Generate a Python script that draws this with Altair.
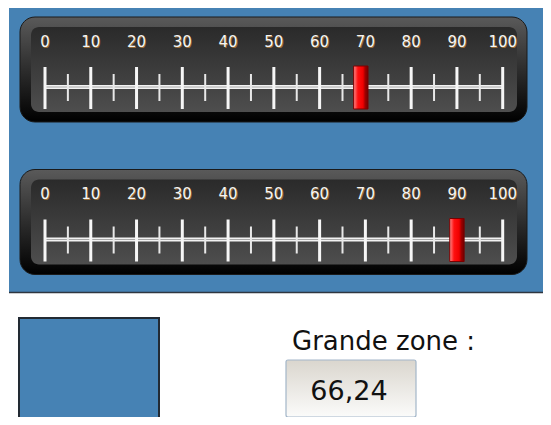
import altair as alt
import pandas as pd

# ---- data ----
MAJOR_TICKS = [0, 10, 20, 30, 40, 50, 60, 70, 80, 90, 100]
MINOR_TICKS = [5, 15, 25, 35, 45, 55, 65, 75, 85, 95]
TICK_LABELS = ["0", "10", "20", "30", "40", "50", "60", "70", "80", "90", "100"]
AXIS_RANGE = [0, 100]
GAUGE_VALUES = [69, 90]
DISPLAY_LABEL = ["Grande zone :"]
DISPLAY_VALUE = ["66,24"]

W, H = 535, 409
X_SCALE = alt.Scale(domain=[-8.084, 108.805], nice=False, zero=False)
FONT = "DejaVu Sans"

one = pd.DataFrame({"k": [0]})
major_df = pd.DataFrame({"v": MAJOR_TICKS, "label": TICK_LABELS})
minor_df = pd.DataFrame({"v": MINOR_TICKS})
axis_df = pd.DataFrame({"lo": [AXIS_RANGE[0]], "hi": [AXIS_RANGE[1]]})


def vgrad(c1, c2):
    return alt.Gradient(gradient="linear", x1=0, x2=0, y1=0, y2=1,
                        stops=[alt.GradientStop(color=c1, offset=0),
                               alt.GradientStop(color=c2, offset=1)])


red_grad = alt.Gradient(gradient="linear", x1=0, x2=1, y1=0, y2=0,
                        stops=[alt.GradientStop(color="#ff8a8a", offset=0),
                               alt.GradientStop(color="#ff1010", offset=0.3),
                               alt.GradientStop(color="#f00000", offset=0.65),
                               alt.GradientStop(color="#a00000", offset=0.8),
                               alt.GradientStop(color="#700000", offset=1)])

layers = []

# blue panel
layers.append(alt.Chart(one).mark_rect(fill="#4682b4").encode(
    x=alt.value(1), x2=alt.value(W), y=alt.value(0), y2=alt.value(285)))
layers.append(alt.Chart(one).mark_rule(stroke="#2e3640", strokeWidth=1.5).encode(
    x=alt.value(1), x2=alt.value(W), y=alt.value(284.5)))


def gauge(value, top):
    o = top  # offset relative to the first gauge
    ls = []
    ls.append(alt.Chart(one).mark_rect(cornerRadius=15, fill=vgrad("#5a5a5a", "#000000"),
                                       stroke="#1a1a1a", strokeWidth=1).encode(
        x=alt.value(12), x2=alt.value(519), y=alt.value(9 + o), y2=alt.value(114 + o)))
    ls.append(alt.Chart(one).mark_rect(cornerRadius=8, fill=vgrad("#2a2a2a", "#4e4e4e")).encode(
        x=alt.value(23), x2=alt.value(509), y=alt.value(19 + o), y2=alt.value(104 + o)))
    # labels (glow + text)
    ls.append(alt.Chart(major_df).mark_text(font=FONT, fontSize=15, color="#b07a3a", opacity=0.8,
                                            baseline="middle", align="center", dx=0.8, dy=0.8).encode(
        x=alt.X("v:Q", scale=X_SCALE, axis=None), y=alt.value(33.7 + o), text="label:N"))
    ls.append(alt.Chart(major_df).mark_text(font=FONT, fontSize=15, color="#f4f4f4",
                                            baseline="middle", align="center").encode(
        x=alt.X("v:Q", scale=X_SCALE, axis=None), y=alt.value(33.7 + o), text="label:N"))
    # axis line
    ls.append(alt.Chart(axis_df).mark_rule(stroke="#f2f2f2", strokeWidth=4).encode(
        x=alt.X("lo:Q", scale=X_SCALE, axis=None), x2="hi:Q", y=alt.value(79 + o)))
    ls.append(alt.Chart(axis_df).mark_rule(stroke="#a8a8a8", strokeWidth=1).encode(
        x=alt.X("lo:Q", scale=X_SCALE, axis=None), x2="hi:Q", y=alt.value(79 + o)))
    # ticks
    ls.append(alt.Chart(major_df).mark_rule(stroke="#f6f6f6", strokeWidth=3).encode(
        x=alt.X("v:Q", scale=X_SCALE, axis=None), y=alt.value(59 + o), y2=alt.value(101 + o)))
    ls.append(alt.Chart(minor_df).mark_rule(stroke="#e8e8e8", strokeWidth=2).encode(
        x=alt.X("v:Q", scale=X_SCALE, axis=None), y=alt.value(66 + o), y2=alt.value(93 + o)))
    # red marker
    ls.append(alt.Chart(pd.DataFrame({"v": [value]})).transform_calculate(
        lo="datum.v - 1.57", hi="datum.v + 1.57").mark_rect(
        fill=red_grad, stroke="#7a0000", strokeWidth=1).encode(
        x=alt.X("lo:Q", scale=X_SCALE, axis=None), x2="hi:Q",
        y=alt.value(58 + o), y2=alt.value(101 + o)))
    return ls


layers += gauge(GAUGE_VALUES[0], 0)
layers += gauge(GAUGE_VALUES[1], 152.5)

# blue square
layers.append(alt.Chart(one).mark_rect(fill="#4682b4", stroke="#222a33", strokeWidth=2).encode(
    x=alt.value(11), x2=alt.value(151), y=alt.value(310), y2=alt.value(430)))

# label
layers.append(alt.Chart(pd.DataFrame({"t": DISPLAY_LABEL})).mark_text(
    font=FONT, fontSize=26, color="#111111", align="left", baseline="alphabetic").encode(
    x=alt.value(284), y=alt.value(342), text="t:N"))

# value box
layers.append(alt.Chart(one).mark_rect(fill=vgrad("#dad6ce", "#fbfbfa"), stroke="#a3b6c9",
                                       strokeWidth=1.2, cornerRadius=2).encode(
    x=alt.value(278), x2=alt.value(408), y=alt.value(352), y2=alt.value(409)))
layers.append(alt.Chart(pd.DataFrame({"t": DISPLAY_VALUE})).mark_text(
    font=FONT, fontSize=27, color="#111111", align="center", baseline="alphabetic").encode(
    x=alt.value(341), y=alt.value(392), text="t:N"))

chart = alt.layer(*layers).properties(
    width=W, height=H, autosize=alt.AutoSizeParams(type="none"), padding=0,
    background="white"
).configure_view(strokeWidth=0)

chart.save("out.html", embed_options={"renderer": "svg", "actions": False})
